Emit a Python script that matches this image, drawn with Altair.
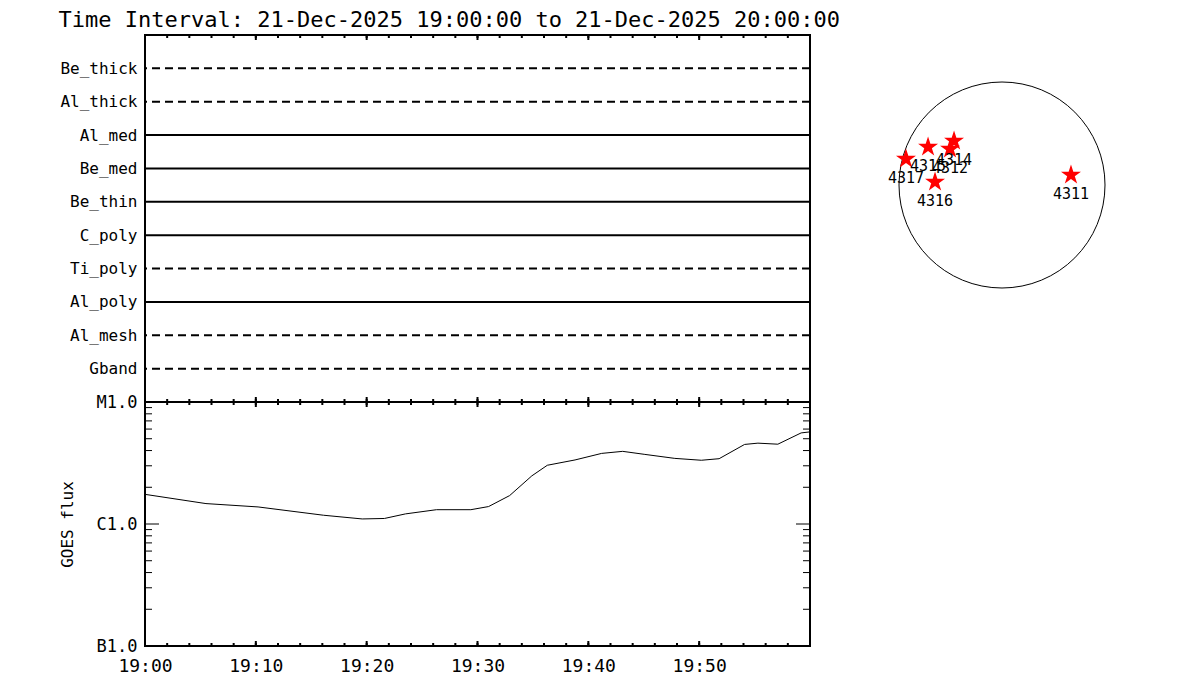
import altair as alt
import pandas as pd

FONT = "DejaVu Sans Mono"

# ---- data ----
channels = ["Be_thick", "Al_thick", "Al_med", "Be_med", "Be_thin",
            "C_poly", "Ti_poly", "Al_poly", "Al_mesh", "Gband"]
channel_dashed = [True, True, False, False, False, False, True, False, True, True]

goes_time = ["19:00:00", "19:05:30", "19:10:12", "19:16:06", "19:19:36", "19:21:36",
             "19:23:30", "19:26:18", "19:29:24", "19:31:00", "19:32:54", "19:34:54",
             "19:36:18", "19:38:48", "19:41:12", "19:43:06", "19:45:06", "19:47:48",
             "19:50:12", "19:51:48", "19:54:06", "19:55:18", "19:57:06", "19:59:12",
             "20:00:00"]
goes_flux = [1.75e-6, 1.47e-6, 1.38e-6, 1.18e-6, 1.10e-6, 1.11e-6,
             1.21e-6, 1.31e-6, 1.31e-6, 1.39e-6, 1.71e-6, 2.48e-6,
             3.03e-6, 3.35e-6, 3.79e-6, 3.94e-6, 3.72e-6, 3.45e-6,
             3.33e-6, 3.43e-6, 4.49e-6, 4.60e-6, 4.51e-6, 5.58e-6,
             5.69e-6]

flux_tick_values = [1e-7, 1e-6, 1e-5]
flux_tick_labels = ["B1.0", "C1.0", "M1.0"]
flux_minor = [2e-7, 3e-7, 4e-7, 5e-7, 6e-7, 7e-7, 8e-7, 9e-7,
              2e-6, 3e-6, 4e-6, 5e-6, 6e-6, 7e-6, 8e-6, 9e-6]
flux_major_inner = [1e-6]

time_labels = ["19:00", "19:10", "19:20", "19:30", "19:40", "19:50"]
time_major = ["19:00", "19:10", "19:20", "19:30", "19:40", "19:50", "20:00"]
time_minor = ["19:%02d" % m for m in range(0, 60, 2)] + ["20:00"]

ar_number = ["4311", "4312", "4314", "4315", "4316", "4317"]
ar_x = [653, -492, -454, -700, -634, -909]
ar_y = [95, 341, 417, 360, 28, 246]

title_text = "Time Interval: 21-Dec-2025 19:00:00 to 21-Dec-2025 20:00:00"

# ---- layout / style ----
W = 665
H_TOP = 367
H_BOT = 244
SUN = 300
SUN_HALF = 1420
DISK_DIAM = 206
STAR_PATH = ("M0,-1L0.2245,-0.309L0.951,-0.309L0.363,0.118L0.588,0.809L0,0.382"
             "L-0.588,0.809L-0.363,0.118L-0.951,-0.309L-0.2245,-0.309Z")


def minutes(hms):
    parts = [int(p) for p in hms.split(":")]
    while len(parts) < 3:
        parts.append(0)
    return (parts[0] - 19) * 60 + parts[1] + parts[2] / 60.0


xscale = alt.Scale(domain=[0, 60], nice=False, zero=False)

ch_df = pd.DataFrame({"channel": channels, "dashed": channel_dashed})
goes_df = pd.DataFrame({"m": [minutes(t) for t in goes_time], "flux": goes_flux})
minor_df = pd.DataFrame({"m": [minutes(t) for t in time_minor]})
major_df = pd.DataFrame({"m": [minutes(t) for t in time_major]})
fminor_df = pd.DataFrame({"f": flux_minor})
fmajor_df = pd.DataFrame({"f": flux_major_inner})
ar_df = pd.DataFrame({"ar": ar_number, "x": ar_x, "y": ar_y})
sun_df = pd.DataFrame({"x": [0], "y": [0]})
frame_df = pd.DataFrame({"k": [0]})

flux_label_expr = ("datum.value < 3e-7 ? '%s' : datum.value < 3e-6 ? '%s' : '%s'"
                   % tuple(flux_tick_labels))
time_label_expr = "'19:' + (datum.value < 10 ? '0' : '') + datum.value"

xaxis_bot = alt.Axis(values=[minutes(t) for t in time_labels],
                     labelExpr=time_label_expr,
                     ticks=False, domain=False, grid=False,
                     labelFont=FONT, labelFontSize=18, labelColor="black",
                     labelPadding=11, labelFlush=False, title=None)
yaxis_bot = alt.Axis(values=flux_tick_values, labelExpr=flux_label_expr,
                     ticks=False, domain=False, grid=False,
                     labelFont=FONT, labelFontSize=17, labelColor="black",
                     labelPadding=8, labelFlush=False,
                     title="GOES flux", titleFont=FONT, titleFontSize=16,
                     titleFontWeight="normal", titleColor="black",
                     titlePadding=21)


def time_ticks(df, y0, y1, axis):
    return alt.Chart(df).mark_rule(color="black", strokeWidth=2).encode(
        x=alt.X("m:Q", scale=xscale, axis=axis),
        y=alt.value(y0), y2=alt.value(y1))


def frame(w, h):
    return alt.Chart(frame_df).mark_rect(
        filled=False, stroke="black", strokeWidth=2, fill="transparent").encode(
        x=alt.value(0), x2=alt.value(w), y=alt.value(0), y2=alt.value(h))


# ---- top panel ----
yscale_top = alt.Scale(type="point", domain=channels, padding=1)
yaxis_top = alt.Axis(title=None, ticks=False, domain=False, grid=False,
                     labelFont=FONT, labelFontSize=16, labelColor="black",
                     labelPadding=8)
solid = alt.Chart(ch_df).transform_filter("!datum.dashed").mark_rule(
    color="black", strokeWidth=2).encode(
    y=alt.Y("channel:N", scale=yscale_top, axis=yaxis_top))
dashed = alt.Chart(ch_df).transform_filter("datum.dashed").mark_rule(
    color="black", strokeWidth=2, strokeDash=[8, 5]).encode(
    y=alt.Y("channel:N", scale=yscale_top, axis=yaxis_top))

top = alt.layer(
    solid, dashed,
    time_ticks(minor_df, 0, 3, None), time_ticks(major_df, 0, 5, None),
    time_ticks(minor_df, H_TOP, H_TOP - 3, None),
    time_ticks(major_df, H_TOP, H_TOP - 5, None),
    frame(W, H_TOP),
).properties(width=W, height=H_TOP)

# ---- bottom panel ----
yscale_bot = alt.Scale(type="log", domain=[1e-7, 1e-5], nice=False)
line = alt.Chart(goes_df).mark_line(color="black", strokeWidth=1).encode(
    x=alt.X("m:Q", scale=xscale, axis=xaxis_bot),
    y=alt.Y("flux:Q", scale=yscale_bot, axis=yaxis_bot))


def flux_ticks(df, x0, x1):
    return alt.Chart(df).mark_rule(color="black", strokeWidth=1).encode(
        y=alt.Y("f:Q", scale=yscale_bot, axis=yaxis_bot),
        x=alt.value(x0), x2=alt.value(x1))


bottom = alt.layer(
    line,
    flux_ticks(fminor_df, 0, 7), flux_ticks(fmajor_df, 0, 14),
    flux_ticks(fminor_df, W - 7, W), flux_ticks(fmajor_df, W - 14, W),
    time_ticks(minor_df, 0, 3, xaxis_bot), time_ticks(major_df, 0, 5, xaxis_bot),
    time_ticks(minor_df, H_BOT, H_BOT - 3, xaxis_bot),
    time_ticks(major_df, H_BOT, H_BOT - 5, xaxis_bot),
    frame(W, H_BOT),
).properties(width=W, height=H_BOT)

# ---- sun panel ----
sx = alt.Scale(domain=[-SUN_HALF, SUN_HALF], nice=False, zero=False)
sy = alt.Scale(domain=[-SUN_HALF, SUN_HALF], nice=False, zero=False)
disk = alt.Chart(sun_df).mark_point(
    shape="circle", filled=False, size=DISK_DIAM ** 2, color="black",
    strokeWidth=1, opacity=1
).encode(x=alt.X("x:Q", scale=sx, axis=None), y=alt.Y("y:Q", scale=sy, axis=None))
stars = alt.Chart(ar_df).mark_point(
    shape=STAR_PATH, filled=True, color="#ff0000", size=441, opacity=1
).encode(x=alt.X("x:Q", scale=sx, axis=None), y=alt.Y("y:Q", scale=sy, axis=None))
labels = alt.Chart(ar_df).mark_text(
    font=FONT, fontSize=15, color="black", dy=19
).encode(x=alt.X("x:Q", scale=sx, axis=None), y=alt.Y("y:Q", scale=sy, axis=None),
         text="ar:N")
sun = alt.layer(disk, stars, labels).properties(width=SUN, height=SUN)

left = alt.vconcat(top, bottom, spacing=0, bounds="flush")
chart = alt.hconcat(left, sun, spacing=38).properties(
    title=alt.TitleParams(text=title_text, anchor="start", font=FONT, fontSize=22,
                          fontWeight="normal", color="black", offset=2),
    padding={"left": 50, "top": 0, "right": 0, "bottom": 0},
).configure_view(stroke="transparent")

chart.save("out.html", embed_options={"renderer": "svg", "actions": False})
